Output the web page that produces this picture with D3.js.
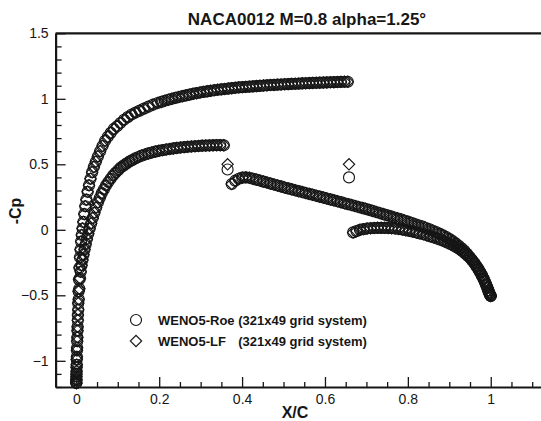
<!DOCTYPE html>
<html><head><meta charset="utf-8">
<script src="https://cdn.jsdelivr.net/npm/d3@7"></script>
<style>
html,body{margin:0;padding:0;background:#fff;}
svg{display:block;font-family:"Liberation Sans",Arial,Helvetica,sans-serif;}
</style></head>
<body>
<svg id="chart" width="541" height="421"></svg>
<script>
// ---- data (x/c, -Cp) ----
const upperX = [0.0000,0.0001,0.0003,0.0006,0.0010,0.0014,0.0019,0.0025,0.0031,0.0038,0.0046,0.0055,0.0065,0.0076,0.0088,0.0101,0.0116,0.0132,0.0150,0.0170,0.0192,0.0216,0.0243,0.0273,0.0306,0.0342,0.0381,0.0424,0.0470,0.0520,0.0574,0.0632,0.0694,0.0760,0.0830,0.0904,0.0982,0.1064,0.1150,0.1240,0.1333,0.1430,0.1530,0.1633,0.1740,0.1850,0.1962,0.2050,0.2135,0.2220,0.2305,0.2390,0.2475,0.2560,0.2645,0.2730,0.2815,0.2900,0.2985,0.3070,0.3155,0.3240,0.3325,0.3410,0.3495,0.3580,0.3665,0.3750,0.3835,0.3920,0.4005,0.4090,0.4175,0.4260,0.4345,0.4430,0.4515,0.4600,0.4685,0.4770,0.4855,0.4940,0.5025,0.5110,0.5195,0.5280,0.5365,0.5450,0.5535,0.5620,0.5705,0.5790,0.5875,0.5960,0.6045,0.6130,0.6215,0.6300,0.6385,0.6470,0.6550];
const upperCp = [-1.17,-1.15,-1.12,-1.08,-1.03,-0.97,-0.90,-0.82,-0.74,-0.65,-0.56,-0.47,-0.38,-0.29,-0.21,-0.15,-0.09,-0.04,0.01,0.06,0.12,0.18,0.23,0.29,0.34,0.39,0.44,0.48,0.52,0.56,0.60,0.64,0.68,0.71,0.74,0.77,0.79,0.815,0.84,0.86,0.88,0.895,0.91,0.925,0.94,0.955,0.968,0.976,0.985,0.993,1.000,1.007,1.014,1.020,1.026,1.032,1.038,1.043,1.048,1.053,1.057,1.061,1.065,1.069,1.072,1.075,1.078,1.081,1.084,1.087,1.089,1.091,1.093,1.095,1.097,1.099,1.101,1.103,1.105,1.106,1.108,1.109,1.111,1.112,1.114,1.115,1.116,1.118,1.119,1.120,1.121,1.122,1.123,1.124,1.125,1.126,1.127,1.128,1.129,1.130,1.130];
const upperAftX = [0.6680,0.6760,0.6845,0.6930,0.7015,0.7100,0.7185,0.7270,0.7355,0.7440,0.7525,0.7610,0.7695,0.7780,0.7865,0.7950,0.8035,0.8120,0.8205,0.8290,0.8375,0.8460,0.8545,0.8630,0.8715,0.8800,0.8880,0.8960,0.9035,0.9110,0.9180,0.9250,0.9315,0.9380,0.9440,0.9500,0.9555,0.9610,0.9660,0.9705,0.9750,0.9790,0.9828,0.9862,0.9892,0.9920,0.9945,0.9965,0.9982,1.0000];
const upperAftCp = [-0.02,-0.01,0.000,0.005,0.010,0.012,0.014,0.015,0.015,0.015,0.014,0.012,0.010,0.006,0.002,-0.003,-0.008,-0.014,-0.020,-0.027,-0.034,-0.042,-0.050,-0.059,-0.068,-0.078,-0.088,-0.099,-0.110,-0.122,-0.135,-0.149,-0.164,-0.180,-0.197,-0.215,-0.235,-0.256,-0.278,-0.300,-0.324,-0.348,-0.372,-0.396,-0.420,-0.443,-0.464,-0.482,-0.495,-0.505];
const lowerX = [0.0000,0.0001,0.0003,0.0006,0.0010,0.0015,0.0021,0.0028,0.0036,0.0046,0.0058,0.0072,0.0088,0.0106,0.0126,0.0148,0.0172,0.0198,0.0226,0.0256,0.0288,0.0322,0.0358,0.0396,0.0436,0.0478,0.0522,0.0568,0.0616,0.0666,0.0718,0.0772,0.0828,0.0886,0.0946,0.1008,0.1072,0.1138,0.1206,0.1276,0.1348,0.1422,0.1498,0.1576,0.1656,0.1738,0.1822,0.1907,0.1993,0.2080,0.2167,0.2254,0.2341,0.2428,0.2515,0.2602,0.2689,0.2776,0.2863,0.2950,0.3037,0.3124,0.3211,0.3298,0.3385,0.3472,0.3559];
const lowerCp = [-1.17,-1.14,-1.10,-1.05,-0.99,-0.92,-0.85,-0.77,-0.69,-0.61,-0.53,-0.45,-0.37,-0.32,-0.27,-0.23,-0.19,-0.15,-0.11,-0.07,-0.03,0.01,0.05,0.09,0.13,0.17,0.21,0.245,0.28,0.31,0.34,0.365,0.39,0.415,0.435,0.455,0.475,0.49,0.505,0.52,0.532,0.545,0.556,0.566,0.575,0.583,0.590,0.597,0.603,0.608,0.613,0.617,0.621,0.625,0.628,0.631,0.634,0.636,0.638,0.640,0.642,0.643,0.644,0.645,0.646,0.646,0.645];
const lowerAftX = [0.3750,0.3835,0.3920,0.4005,0.4090,0.4175,0.4260,0.4345,0.4430,0.4515,0.4600,0.4685,0.4770,0.4855,0.4940,0.5025,0.5110,0.5195,0.5280,0.5365,0.5450,0.5535,0.5620,0.5705,0.5790,0.5875,0.5960,0.6045,0.6130,0.6215,0.6300,0.6385,0.6470,0.6555,0.6640,0.6725,0.6810,0.6895,0.6980,0.7065,0.7150,0.7235,0.7320,0.7405,0.7490,0.7575,0.7660,0.7745,0.7830,0.7915,0.8000,0.8085,0.8170,0.8255,0.8340,0.8425,0.8510,0.8595,0.8680,0.8765,0.8850,0.8930,0.9010,0.9085,0.9160,0.9230,0.9300,0.9365,0.9430,0.9490,0.9550,0.9605,0.9655,0.9702,0.9746,0.9786,0.9824,0.9858,0.9889,0.9917,0.9941,0.9962,0.9980,1.0000];
const lowerAftCp = [0.350,0.375,0.390,0.398,0.400,0.397,0.390,0.383,0.376,0.368,0.361,0.353,0.346,0.338,0.331,0.323,0.316,0.309,0.302,0.295,0.288,0.281,0.274,0.267,0.260,0.253,0.246,0.239,0.232,0.225,0.218,0.211,0.203,0.196,0.189,0.182,0.174,0.167,0.160,0.152,0.144,0.136,0.128,0.120,0.112,0.104,0.096,0.088,0.080,0.071,0.062,0.053,0.044,0.035,0.026,0.016,0.006,-0.005,-0.017,-0.029,-0.042,-0.056,-0.071,-0.087,-0.104,-0.122,-0.141,-0.161,-0.183,-0.206,-0.230,-0.254,-0.278,-0.302,-0.326,-0.350,-0.374,-0.398,-0.421,-0.443,-0.463,-0.480,-0.494,-0.505];
// shock cells where the two schemes differ
const shockX = [0.365, 0.658];
const shockRoe = [0.46, 0.40];
const shockLF = [0.50, 0.50];

const seriesNames = ["WENO5-Roe (321x49 grid system)", "WENO5-LF", "(321x49 grid system)"];
const xTicks = [0, 0.2, 0.4, 0.6, 0.8, 1];
const yTicks = [-1, -0.5, 0, 0.5, 1, 1.5];
const titleText = "NACA0012 M=0.8 alpha=1.25°";

// ---- build series ----
function zipPts(xs, cs){ return xs.map((x,i)=>({x:x, cp:cs[i]})); }
const common = [].concat(zipPts(upperX, upperCp), zipPts(upperAftX, upperAftCp), zipPts(lowerX, lowerCp), zipPts(lowerAftX, lowerAftCp));
const roe = common.concat(zipPts(shockX, shockRoe));
const lf = common.concat(zipPts(shockX, shockLF));

const svg = d3.select("#chart");
const x = d3.scaleLinear().domain([-0.05, 1.15]).range([55.6, 552.9]);
const y = d3.scaleLinear().domain([-1.2, 1.5]).range([387, 33.3]);
const ink = "#161616";

// markers
const gData = svg.append("g");
gData.selectAll("circle").data(roe).enter().append("circle")
  .attr("cx", d=>x(d.x)).attr("cy", d=>y(d.cp)).attr("r", 5.5)
  .attr("fill","none").attr("stroke", ink).attr("stroke-width", 1.15);
const diamond = d3.symbol().type(d3.symbolSquare).size(64);
gData.selectAll("path").data(lf).enter().append("path")
  .attr("d", diamond)
  .attr("transform", d=>`translate(${x(d.x)},${y(d.cp)}) rotate(45)`)
  .attr("fill","none").attr("stroke", ink).attr("stroke-width", 1.15);

// axes
const xMinor = d3.range(-0.05, 1.151, 0.05).map(v=>+v.toFixed(2)).filter(v=>!xTicks.includes(v));
const yMinor = d3.range(-1.2, 1.501, 0.1).map(v=>+v.toFixed(1)).filter(v=>!yTicks.includes(v));

svg.append("g").attr("transform", `translate(0,${y(-1.2)})`)
  .call(d3.axisBottom(x).tickValues(xTicks).tickSize(-10).tickSizeOuter(0).tickPadding(7).tickFormat(d3.format("")));
svg.append("g").attr("transform", `translate(0,${y(-1.2)})`)
  .call(d3.axisBottom(x).tickValues(xMinor).tickSize(-5).tickSizeOuter(0).tickFormat(""))
  .select(".domain").remove();
svg.append("g").attr("transform", `translate(${x(-0.05)},0)`)
  .call(d3.axisLeft(y).tickValues(yTicks).tickSize(-10).tickSizeOuter(0).tickPadding(7).tickFormat(d3.format("")));
svg.append("g").attr("transform", `translate(${x(-0.05)},0)`)
  .call(d3.axisLeft(y).tickValues(yMinor).tickSize(-6).tickSizeOuter(0).tickFormat(""))
  .select(".domain").remove();

svg.selectAll(".domain").attr("stroke", ink).attr("stroke-width", 2.2);
svg.selectAll(".tick line").attr("stroke", ink).attr("stroke-width", 1.3);
svg.selectAll(".tick text").attr("fill", ink).style("font-size","14px").style("font-family","'Liberation Sans',Arial,sans-serif");
// top frame line
svg.append("line").attr("x1", x(-0.05)).attr("x2", x(1.15)).attr("y1", y(1.5)).attr("y2", y(1.5))
  .attr("stroke", ink).attr("stroke-width", 2.2);

// titles
svg.append("text").attr("x", 307).attr("y", 25).attr("text-anchor","middle")
  .style("font-size","17px").style("font-weight","bold").attr("fill", ink).text(titleText);
svg.append("text").attr("x", 295).attr("y", 418).attr("text-anchor","middle")
  .style("font-size","16px").style("font-weight","bold").attr("fill", ink).text("X/C");
svg.append("text").attr("transform","translate(21,211) rotate(-90)").attr("text-anchor","middle")
  .style("font-size","16px").style("font-weight","bold").attr("fill", ink).text("-Cp");

// legend
const lg = svg.append("g");
lg.append("circle").attr("cx",136).attr("cy",320).attr("r",5.5).attr("fill","none").attr("stroke",ink).attr("stroke-width",1.15);
lg.append("path").attr("d", diamond).attr("transform","translate(136,341) rotate(45)").attr("fill","none").attr("stroke",ink).attr("stroke-width",1.15);
const t1 = lg.append("text").attr("x",158).attr("y",324.5).style("font-size","13px").style("font-weight","bold").attr("fill",ink).text(seriesNames[0]);
lg.append("text").attr("x",158).attr("y",345.5).style("font-size","13px").style("font-weight","bold").attr("fill",ink).text(seriesNames[1]);
const endX = 158 + t1.node().getComputedTextLength();
lg.append("text").attr("x",endX).attr("y",345.5).attr("text-anchor","end").style("font-size","13px").style("font-weight","bold").attr("fill",ink).text(seriesNames[2]);
</script>
</body></html>
